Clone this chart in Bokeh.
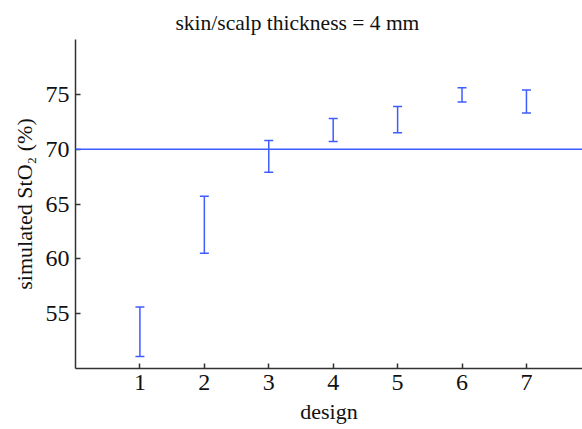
from bokeh.plotting import figure
from bokeh.models import ColumnDataSource, Whisker, TeeHead, Span, Range1d, FixedTicker
from bokeh.embed import file_html
from bokeh.resources import INLINE

design = [1, 2, 3, 4, 5, 6, 7]
lower = [51.1, 60.5, 67.9, 70.7, 71.5, 74.3, 73.3]
upper = [55.6, 65.7, 70.8, 72.8, 73.9, 75.6, 75.4]
reference_level = 70
y_ticks = [55, 60, 65, 70, 75]

BLUE = "#3f5cff"
FONT = "Liberation Serif"

src = ColumnDataSource(dict(x=design, lower=lower, upper=upper))

p = figure(width=582, height=429, output_backend="svg", toolbar_location=None,
           x_range=Range1d(0, 7.87), y_range=Range1d(50, 80),
           min_border_left=75, min_border_right=0, min_border_top=39,
           min_border_bottom=61)
p.outline_line_color = None
p.grid.grid_line_color = None

p.title.text = "skin/scalp thickness = 4 mm"
p.title.text_font = FONT
p.title.text_font_size = "21.5px"
p.title.text_font_style = "normal"
p.title.text_color = "#111111"
p.title.align = "left"
p.title.offset = 100

w = Whisker(source=src, base="x", upper="upper", lower="lower",
            line_color=BLUE, line_width=1.5,
            upper_head=TeeHead(size=9, line_color=BLUE, line_width=1.5),
            lower_head=TeeHead(size=9, line_color=BLUE, line_width=1.5))
p.add_layout(w)
p.add_layout(Span(location=reference_level, dimension="width", line_color=BLUE, line_width=1.5))

for ax in (p.xaxis[0], p.yaxis[0]):
    ax.major_tick_in = 5
    ax.major_tick_out = 0
    ax.minor_tick_line_color = None
    ax.axis_line_color = "#333333"
    ax.axis_line_width = 1.5
    ax.major_tick_line_color = "#333333"
    ax.major_tick_line_width = 1.5
    ax.major_label_text_font = FONT
    ax.major_label_text_font_size = "24px"
    ax.major_label_text_color = "#111111"
    ax.axis_label_text_font = FONT
    ax.axis_label_text_font_size = "22px"
    ax.axis_label_text_font_style = "normal"
    ax.axis_label_text_color = "#111111"
    ax.major_label_standoff = 6

p.xaxis.ticker = FixedTicker(ticks=design)
p.yaxis.ticker = FixedTicker(ticks=y_ticks)
p.xaxis.axis_label = "design"
p.yaxis.axis_label = "simulated StO\u2082 (%)"
p.xaxis.axis_label_standoff = 6
p.yaxis.axis_label_standoff = 6

open("out.html", "w").write(file_html(p, INLINE))
